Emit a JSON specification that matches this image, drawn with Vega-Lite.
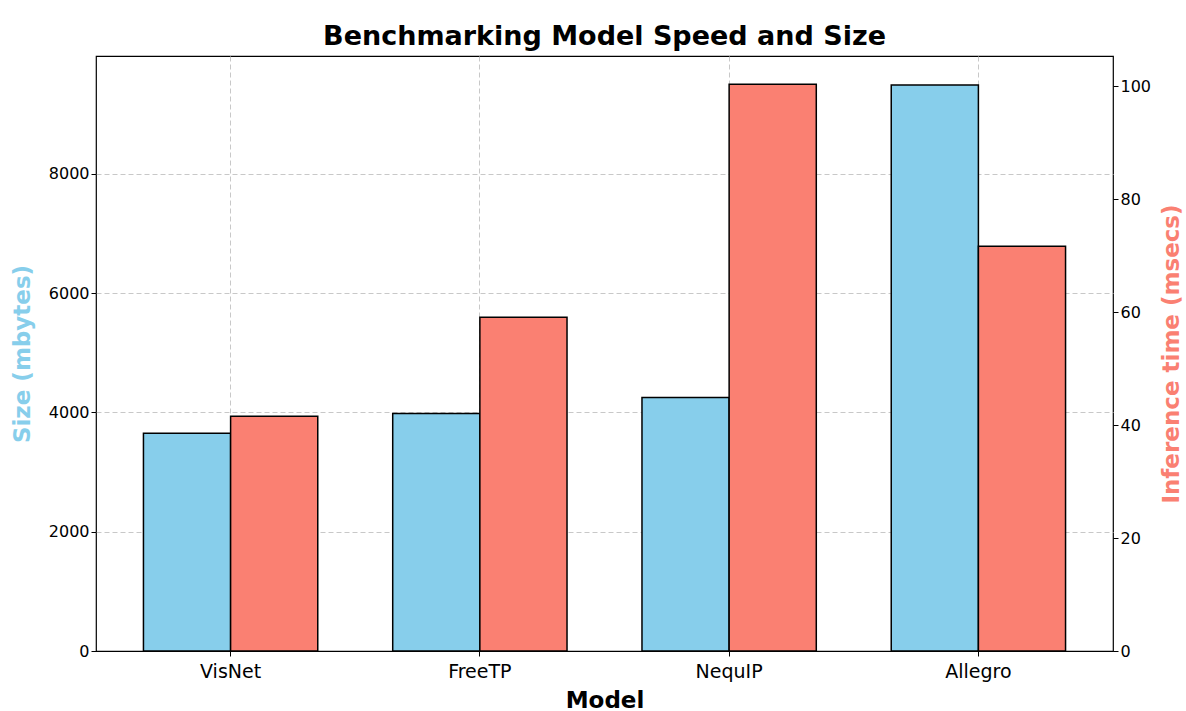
{
  "$schema": "https://vega.github.io/schema/vega-lite/v6.json",
  "width": 1017,
  "height": 595,
  "autosize": {"type": "none"},
  "padding": {"left": 96, "top": 56, "right": 73, "bottom": 60},
  "background": "white",
  "config": {
    "font": "DejaVu Sans",
    "view": {"stroke": "black", "strokeWidth": 1.2},
    "axis": {"labelFont": "DejaVu Sans", "titleFont": "DejaVu Sans", "labelColor": "black", "tickColor": "black", "domainColor": "black", "tickSize": 5}
  },
  "title": {"text": "Benchmarking Model Speed and Size", "fontSize": 27, "fontWeight": "bold", "font": "DejaVu Sans", "color": "black", "offset": 5},
  "data": {"values": [
    {"model": "VisNet", "metric": "Size", "value": 3650},
    {"model": "FreeTP", "metric": "Size", "value": 3980},
    {"model": "NequIP", "metric": "Size", "value": 4250},
    {"model": "Allegro", "metric": "Size", "value": 9490},
    {"model": "VisNet", "metric": "Inference", "value": 41.6},
    {"model": "FreeTP", "metric": "Inference", "value": 59.1},
    {"model": "NequIP", "metric": "Inference", "value": 100.4},
    {"model": "Allegro", "metric": "Inference", "value": 71.7}
  ]},
  "encoding": {
    "x": {
      "field": "model", "type": "nominal", "sort": ["VisNet", "FreeTP", "NequIP", "Allegro"],
      "scale": {"paddingInner": 0, "paddingOuter": 0.04},
      "axis": {"title": "Model", "titleFontSize": 23, "titleFontWeight": "bold", "titleColor": "black", "titlePadding": 8, "labelFontSize": 19, "labelAngle": 0, "labelPadding": 6, "grid": true, "gridDash": [5, 3], "gridColor": "#c8c8c8", "bandPosition": 0.5, "domain": false}
    },
    "xOffset": {"field": "metric", "type": "nominal", "sort": ["Size", "Inference"], "scale": {"domain": ["Size", "Inference"], "paddingInner": 0, "paddingOuter": 0.43}}
  },
  "layer": [
    {
      "transform": [{"filter": "datum.metric === 'Size'"}],
      "mark": {"type": "bar", "color": "#87CEEB", "stroke": "black", "strokeWidth": 1.5},
      "encoding": {
        "y": {"field": "value", "type": "quantitative", "scale": {"domain": [0, 9975], "nice": false, "zero": true},
          "axis": {"title": "Size (mbytes)", "titleColor": "#87CEEB", "titleFontSize": 23, "titleFontWeight": "bold", "titlePadding": 14, "labelFontSize": 16, "format": "d", "values": [0, 2000, 4000, 6000, 8000], "grid": true, "gridDash": [5, 3], "gridColor": "#c8c8c8", "gridOpacity": {"condition": {"test": "datum.value === 0", "value": 0}, "value": 1}, "domain": false}}
      }
    },
    {
      "transform": [{"filter": "datum.metric === 'Inference'"}],
      "mark": {"type": "bar", "color": "#FA8072", "stroke": "black", "strokeWidth": 1.5},
      "encoding": {
        "y": {"field": "value", "type": "quantitative", "scale": {"domain": [0, 105.4], "nice": false, "zero": true},
          "axis": {"orient": "right", "title": "Inference time (msecs)", "titleAngle": 270, "titleColor": "#FA8072", "titleFontSize": 23, "titleFontWeight": "bold", "titlePadding": 33, "labelFontSize": 16, "values": [0, 20, 40, 60, 80, 100], "grid": false, "domain": false}}
      }
    }
  ],
  "resolve": {"scale": {"y": "independent"}, "axis": {"y": "independent"}}
}
